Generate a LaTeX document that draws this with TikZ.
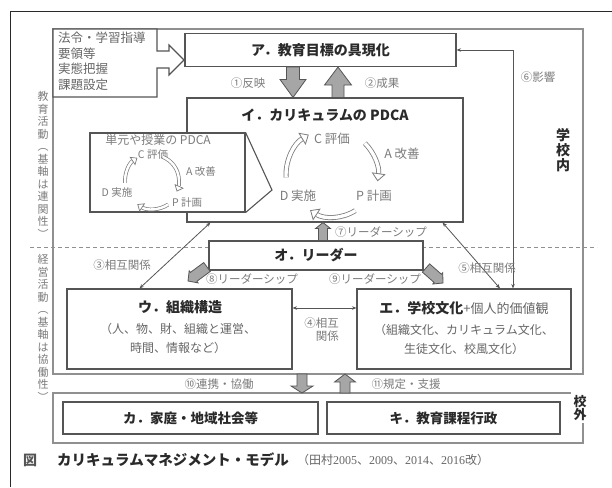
\documentclass[tikz,border=0pt]{standalone}
\usepackage{fontspec}
\setmainfont{Noto Sans CJK JP}
\newfontfamily\lser{Liberation Serif}
\usetikzlibrary{arrows.meta,calc}
\definecolor{boxc}{HTML}{555555}
\definecolor{framec}{HTML}{909090}
\definecolor{lblc}{HTML}{7C7C7C}
\definecolor{titc}{HTML}{2A2A2A}
\definecolor{arrf}{HTML}{A6A6A6}
\definecolor{subc}{HTML}{666666}
\tikzset{
 box/.style={draw=boxc, line width=1.1pt, fill=white, inner sep=0pt},
 ttl/.style={font=\bfseries\fontsize{14}{16}\selectfont, text=titc, inner sep=0pt},
 lbl/.style={font=\fontsize{11.5}{13}\selectfont, text=lblc, inner sep=0pt},
 sub/.style={font=\fontsize{12}{19}\selectfont, text=subc, inner sep=0pt, align=center},
 pdca/.style={font=\fontsize{12.5}{14}\selectfont, text=lblc, inner sep=0pt},
 pdcas/.style={font=\fontsize{10.5}{12}\selectfont, text=lblc, inner sep=0pt},
 vert/.style={font=\fontsize{11}{12.5}\selectfont, text=lblc, inner sep=0pt, align=center},
 hollow/.style={draw=lblc, double=white, double distance=3.4pt, line width=0.8pt, -{Triangle[fill=white, length=8pt, width=14pt, line width=0.8pt]}},
 hollows/.style={draw=lblc, double=white, double distance=2.4pt, line width=0.7pt, -{Triangle[fill=white, length=6pt, width=10pt, line width=0.7pt]}},
 rel/.style={draw=boxc, line width=0.8pt, {Stealth[length=4.5pt,width=3.5pt]}-{Stealth[length=4.5pt,width=3.5pt]}},
 blockarrow/.style={draw=boxc, fill=arrf, line width=0.8pt, line join=miter},
 frame/.style={draw=framec, line width=1.2pt},
}
% #1 start, #2 end, #3 shaft half width, #4 head half width, #5 head length
\newcommand\blockarr[5]{%
 \coordinate (ba-h) at ($(#2)!#5pt!(#1)$);
 \draw[blockarrow] ($(#1)!#3pt!90:(#2)$) -- ($(ba-h)!#3pt!90:(#2)$) -- ($(ba-h)!#4pt!90:(#2)$) -- (#2)
   -- ($(ba-h)!#4pt!-90:(#2)$) -- ($(ba-h)!#3pt!-90:(#2)$) -- ($(#1)!#3pt!-90:(#2)$) -- cycle;}
\begin{document}
\begin{tikzpicture}[x=1pt,y=-1pt]
\useasboundingbox (0,0) rectangle (612,487);
\fill[white] (0,0) rectangle (612,487);
% outer border
\draw[titc, line width=1pt] (10,487) -- (10,12) -- (612,12);
% school frame, dashed divider, outside frame
\draw[frame] (53,29) rectangle (583,374);
\draw[framec, line width=1pt, dash pattern=on 4pt off 3pt] (30,247) -- (597,247);
\draw[frame] (571,393) -- (53,393) -- (53,443) -- (583,443) -- (583,423);
% side labels
\node[vert] (v1) at (43,165) {教\\育\\活\\動\\︵\\基\\軸\\は\\連\\関\\性\\︶};
\node[vert] (v2) at (43,328) {経\\営\\活\\動\\︵\\基\\軸\\は\\協\\働\\性\\︶};
\node[font=\bfseries\fontsize{14}{15}\selectfont, text=titc, align=center, inner sep=0pt] (inside) at (563,150) {学\\校\\内};
\node[font=\bfseries\fontsize{13}{13.5}\selectfont, text=titc, align=center, inner sep=0pt] (outside) at (580,408) {校\\外};
% law box with hollow arrow
\draw[boxc, line width=1.1pt, fill=white] (53,29) -- (157,29) -- (157,51) -- (169,51) -- (169,45) -- (184,60)
  -- (169,75) -- (169,68) -- (157,68) -- (157,97) -- (53,97) -- cycle;
\node[anchor=north west, font=\fontsize{12.5}{15.5}\selectfont, text=subc, align=left, inner sep=0pt] (law) at (58,32)
  {法令・学習指導\\要領等\\実態把握\\課題設定};
% main boxes
\node[box, minimum width=271pt, minimum height=33pt, font=\bfseries\fontsize{14}{16}\selectfont, text=titc] (A) at (320.5,50) {ア．教育目標の具現化};
\node[box, minimum width=276pt, minimum height=124pt] (I) at (325,160) {};
\node[ttl] (Ititle) at (325,115) {イ．カリキュラムの PDCA};
\node[box, minimum width=214pt, minimum height=29pt, font=\bfseries\fontsize{14}{16}\selectfont, text=titc] (O) at (316,255.5) {オ．リーダー};
\node[box, minimum width=225pt, minimum height=80pt] (U) at (179.5,329) {};
\node[ttl] (Utitle) at (180,307) {ウ．組織構造};
\node[sub] (Usub) at (178,338.5) {（人、物、財、組織と運営、\\時間、情報など）};
\node[box, minimum width=214pt, minimum height=80pt] (E) at (464,329) {};
\node[ttl] (Etitle) at (464,308) {エ．学校文化{\color{subc}\mdseries\fontsize{13}{16}\selectfont +個人的価値観}};
\node[sub] (Esub) at (464,339) {（組織文化、カリキュラム文化、\\生徒文化、校風文化）};
\node[box, minimum width=255pt, minimum height=32pt, font=\bfseries\fontsize{13.5}{16}\selectfont, text=titc] (K) at (190.5,418) {カ．家庭・地域社会等};
\node[box, minimum width=233pt, minimum height=32pt, font=\bfseries\fontsize{13.5}{16}\selectfont, text=titc] (Ki) at (443.5,418) {キ．教育課程行政};
% inner PDCA callout
\node[box, minimum width=155pt, minimum height=79pt] (IP) at (167.5,172.5) {};
\coordinate (callout) at (272,190);
\draw[boxc, line width=1.1pt] (IP.north east) -- (callout) -- (IP.south east);
\node[font=\fontsize{12}{14}\selectfont, text=lblc, inner sep=0pt] (IPt) at (158,140) {単元や授業の PDCA};
\node[pdcas] (iC) at (153,155) {C 評価};
\node[pdcas] (iA) at (201,172) {A 改善};
\node[pdcas] (iD) at (117,193) {D 実施};
\node[pdcas] (iP) at (187,203) {P 計画};
\coordinate (ipc) at (153,181);
\draw[hollows] ([shift={(-184:28)}]ipc) arc (-184:-124:28);
\draw[hollows] ([shift={(-68:26)}]ipc) arc (-68:24:26);
\draw[hollows] ([shift={(57:28)}]ipc) arc (57:124:28);
% main PDCA
\node[pdca] (mC) at (332,139) {C 評価};
\node[pdca] (mA) at (402,154) {A 改善};
\node[pdca] (mD) at (298,196) {D 実施};
\node[pdca] (mP) at (374,196) {P 計画};
\coordinate (mpc) at (333,175);
\draw[hollow] ([shift={(-183:47)}]mpc) arc (-183:-121:47);
\draw[hollow] ([shift={(-45:45)}]mpc) arc (-45:8:45);
\draw[hollow] ([shift={(58:42)}]mpc) arc (58:123:42);
% block arrows
\coordinate (r1a) at ([xshift=-27.5pt]A.south);
\coordinate (r1b) at ([xshift=-32pt]I.north);
\blockarr{r1a}{r1b}{6.5}{13}{18}
\coordinate (r2a) at ([xshift=13pt]I.north);
\coordinate (r2b) at ([xshift=17.5pt]A.south);
\blockarr{r2a}{r2b}{6}{13.5}{18}
\coordinate (r7a) at ([xshift=7pt]O.north);
\coordinate (r7b) at ([xshift=-2pt]I.south);
\blockarr{r7a}{r7b}{4.5}{7.5}{6}
\coordinate (r8a) at (207,267);
\coordinate (r8b) at (188,281);
\blockarr{r8a}{r8b}{5.5}{7.5}{7}
\coordinate (r9a) at (426,268);
\coordinate (r9b) at (443,283);
\blockarr{r9a}{r9b}{5.5}{7.5}{7}
\coordinate (r10a) at (302,374);
\coordinate (r10b) at (302,393);
\blockarr{r10a}{r10b}{5}{11}{7}
\coordinate (r11a) at (345,393);
\coordinate (r11b) at (345,374);
\blockarr{r11a}{r11b}{5}{10.5}{8}
% relation lines
\draw[rel] ([xshift=24pt]I.south west) -- ([xshift=73pt]U.north west);
\draw[rel] ([xshift=-21pt]I.south east) -- ([xshift=36pt]E.north);
\draw[rel] (A.east) -| ([xshift=49pt]E.north);
\draw[rel] ([yshift=21pt]U.east) -- ([yshift=21pt]E.west);
% labels
\node[lbl] (l1) at (248,83) {①反映};
\node[lbl] (l2) at (382,83) {②成果};
\node[lbl] (l3) at (122,265) {③相互関係};
\node[lbl, align=right, anchor=east] (l4) at (339,330) {④相互\\関係};
\node[lbl] (l5) at (487,268) {⑤相互関係};
\node[lbl] (l6) at (538,77) {⑥影響};
\node[lbl] (l7) at (381,232) {⑦リーダーシップ};
\node[lbl] (l8) at (252,279) {⑧リーダーシップ};
\node[lbl] (l9) at (375,279) {⑨リーダーシップ};
\node[lbl] (l10) at (219,384) {⑩連携・協働};
\node[lbl] (l11) at (406,384) {⑪規定・支援};
% caption
\node[font=\bfseries\fontsize{14}{16}\selectfont, text=titc!80, inner sep=0pt] (fig) at (30,460) {図};
\node[anchor=west, font=\bfseries\fontsize{14.5}{16}\selectfont, text=titc, inner sep=0pt] (capt) at (57,460) {カリキュラムマネジメント・モデル};
\node[anchor=west, font=\fontsize{12}{14}\selectfont, text=subc, inner sep=0pt] (capr) at (297,460)
  {（田村{\lser 2005}、{\lser 2009}、{\lser 2014}、{\lser 2016}改）};
\end{tikzpicture}
\end{document}
